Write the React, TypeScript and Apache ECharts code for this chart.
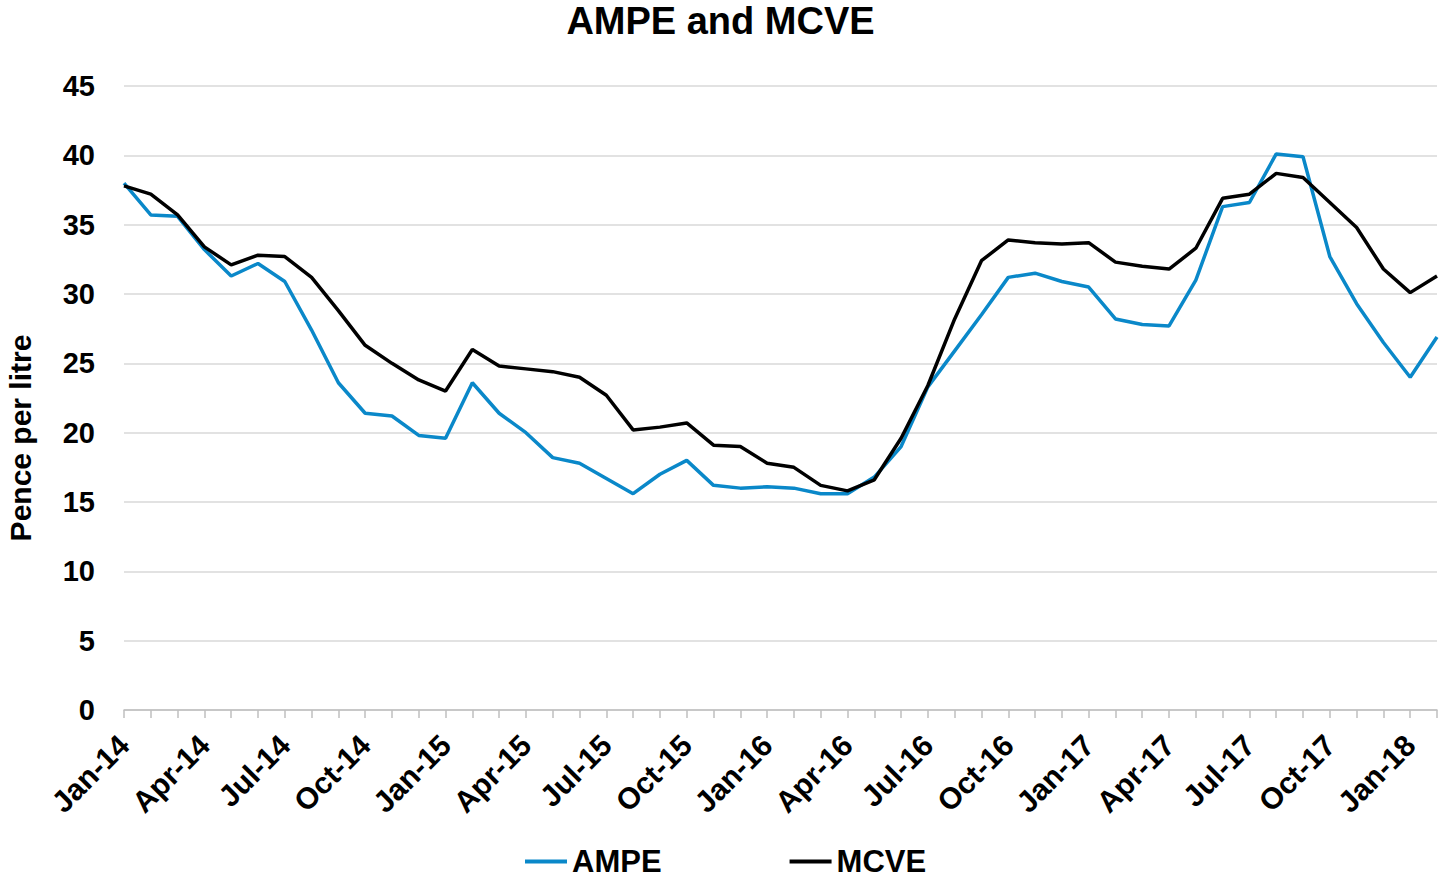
import React, { useEffect, useRef } from "react";
import * as echarts from "echarts";

const MONTHS = ["Jan", "Feb", "Mar", "Apr", "May", "Jun", "Jul", "Aug", "Sep", "Oct", "Nov", "Dec"];
const YEARS = ["14", "15", "16", "17", "18"];
const categories: string[] = [];
YEARS.forEach((y) => MONTHS.forEach((m) => categories.push(`${m}-${y}`)));
const CATEGORIES = categories.slice(0, 50); // Jan-14 .. Feb-18

const AMPE = [
  38.0, 35.7, 35.6, 33.2, 31.3, 32.2, 30.9, 27.4, 23.6, 21.4,
  21.2, 19.8, 19.6, 23.6, 21.4, 20.0, 18.2, 17.8, 16.7, 15.6,
  17.0, 18.0, 16.2, 16.0, 16.1, 16.0, 15.6, 15.6, 16.8, 19.0,
  23.3, 25.9, 28.5, 31.2, 31.5, 30.9, 30.5, 28.2, 27.8, 27.7,
  31.0, 36.3, 36.6, 40.1, 39.9, 32.7, 29.3, 26.5, 24.0, 26.9,
];

const MCVE = [
  37.8, 37.2, 35.7, 33.4, 32.1, 32.8, 32.7, 31.2, 28.8, 26.3,
  25.0, 23.8, 23.0, 26.0, 24.8, 24.6, 24.4, 24.0, 22.7, 20.2,
  20.4, 20.7, 19.1, 19.0, 17.8, 17.5, 16.2, 15.8, 16.6, 19.6,
  23.4, 28.2, 32.4, 33.9, 33.7, 33.6, 33.7, 32.3, 32.0, 31.8,
  33.3, 36.9, 37.2, 38.7, 38.4, 36.6, 34.8, 31.8, 30.1, 31.3,
];

const Y_NAME = "Pence per litre";
const FONT = "'Liberation Sans', Arial, sans-serif";

export default function App() {
  const ref = useRef<HTMLDivElement>(null);

  useEffect(() => {
    document.body.style.margin = "0";
    if (!ref.current) return;
    const chart = echarts.init(ref.current, undefined, { renderer: "svg" });
    chart.setOption({
      animation: false,
      backgroundColor: "#ffffff",
      textStyle: { fontFamily: FONT },
      title: {
        text: "AMPE and MCVE",
        left: "center",
        top: -3,
        textStyle: { fontFamily: FONT, fontSize: 38, fontWeight: "bold", color: "#000" },
      },
      legend: {
        data: ["AMPE", "MCVE"],
        left: 525,
        top: 846,
        icon: "rect",
        itemWidth: 42,
        itemHeight: 4,
        itemGap: 128,
        padding: 0,
        textStyle: { fontFamily: FONT, fontSize: 31, fontWeight: "bold", color: "#000" },
      },
      graphic: [
        {
          type: "text",
          x: 20,
          y: 438,
          rotation: Math.PI / 2,
          style: {
            text: Y_NAME,
            fontFamily: FONT,
            fontSize: 30,
            fontWeight: "bold",
            fill: "#000",
            align: "center",
            verticalAlign: "middle",
          },
        },
      ],
      grid: {
        left: 124,
        right: 4,
        top: 86,
        bottom: 169,
        containLabel: false,
        outerBoundsMode: "none",
      },
      xAxis: {
        type: "category",
        data: CATEGORIES,
        boundaryGap: false,
        axisLine: { show: true, lineStyle: { color: "#bfbfbf", width: 1.5 } },
        axisTick: { show: true, interval: 0, length: 8, lineStyle: { color: "#bfbfbf", width: 1.5 } },
        axisLabel: {
          interval: 2,
          rotate: 45,
          margin: 30,
          fontFamily: FONT,
          fontSize: 30,
          fontWeight: "bold",
          color: "#000",
        },
        splitLine: { show: false },
      },
      yAxis: {
        type: "value",
        min: 0,
        max: 45,
        interval: 5,
        axisLine: { show: false },
        axisTick: { show: false },
        axisLabel: { margin: 29, fontFamily: FONT, fontSize: 29, fontWeight: "bold", color: "#000" },
        splitLine: { show: true, lineStyle: { color: "#d9d9d9", width: 1.5 } },
      },
      series: [
        {
          name: "AMPE",
          type: "line",
          data: AMPE,
          symbol: "none",
          color: "#0a88c9",
          lineStyle: { color: "#0a88c9", width: 3.5 },
        },
        {
          name: "MCVE",
          type: "line",
          data: MCVE,
          symbol: "none",
          color: "#000000",
          lineStyle: { color: "#000000", width: 3.5 },
        },
      ],
    });
    return () => chart.dispose();
  }, []);

  return <div ref={ref} style={{ width: 1441, height: 879 }} />;
}
